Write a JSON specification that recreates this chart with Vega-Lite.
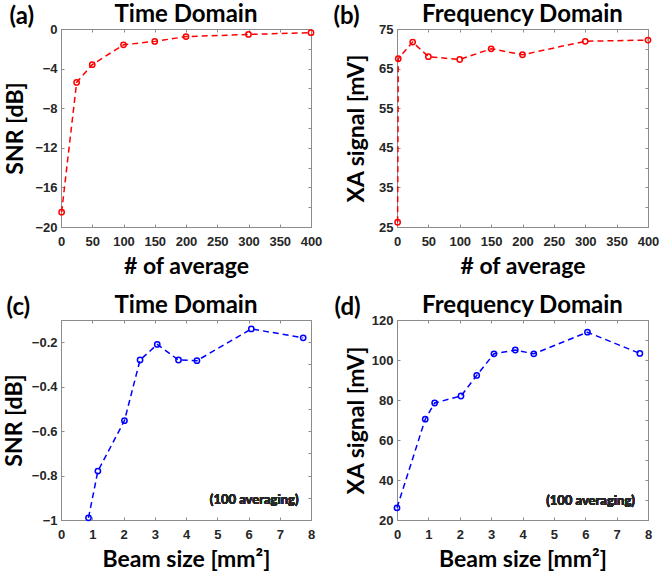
{
  "$schema": "https://vega.github.io/schema/vega-lite/v6.json",
  "background": "white",
  "padding": {"left": 2, "top": 2, "right": 0, "bottom": 1},
  "bounds": "flush",
  "columns": 2,
  "spacing": {"row": 93, "column": 86},
  "config": {
    "view": {"stroke": "#a0a0a0", "strokeWidth": 1},
    "axis": {"domainColor": "#8c8c8c", "tickColor": "#8c8c8c", "tickSize": -3, "grid": false, "labelOverlap": false, "labelFlush": false, "labelBound": false,
      "labelFont": "Liberation Sans", "labelFontWeight": "bold", "labelFontSize": 13, "labelColor": "#262626",
      "titleFont": "Lato", "titleFontWeight": "bold", "titleFontSize": 23, "titleColor": "#000000"},
    "axisBottom": {"labelPadding": 11, "titlePadding": 7},
    "axisLeft": {"labelPadding": 7, "titlePadding": 6},
    "title": {"font": "Lato", "fontWeight": "bold", "fontSize": 24, "color": "#000000", "anchor": "middle", "frame": "group"}
  },
  "concat": [
    {
      "width": 250, "height": 198,
      "title": {"text": "Time Domain", "offset": -23},
      "data": {"values": [
        {"avg": 1, "val": -18.5}, {"avg": 25, "val": -5.4}, {"avg": 50, "val": -3.6}, {"avg": 100, "val": -1.6},
        {"avg": 150, "val": -1.25}, {"avg": 200, "val": -0.77}, {"avg": 300, "val": -0.55}, {"avg": 400, "val": -0.37}
      ]},
      "layer": [
        {"mark": {"type": "line", "color": "#ff0000", "strokeDash": [6, 4], "strokeWidth": 1.5},
         "encoding": {
           "x": {"field": "avg", "type": "quantitative", "scale": {"domain": [0, 400], "nice": false},
                 "axis": {"orient": "bottom", "title": "# of average", "labelFlush": false, "labelOverlap": false, "values": [0, 50, 100, 150, 200, 250, 300, 350, 400]}},
           "y": {"field": "val", "type": "quantitative", "scale": {"domain": [-20, 0], "nice": false, "zero": false},
                 "axis": {"orient": "left", "title": "SNR [dB]", "titlePadding": 7, "labelFlush": false, "values": [-20, -16, -12, -8, -4, 0]}}
         }},
        {"mark": {"type": "point", "shape": "circle", "filled": false, "color": "#ff0000", "size": 28, "strokeWidth": 1.5, "opacity": 1},
         "encoding": {
           "x": {"field": "avg", "type": "quantitative",
                 "axis": {"orient": "top", "labels": false, "values": [0, 50, 100, 150, 200, 250, 300, 350, 400],
                          "title": "(a)", "titleX": -52, "titleY": -13, "titleAlign": "left", "titleBaseline": "middle", "titleAngle": 0, "titleFontSize": 24}},
           "y": {"field": "val", "type": "quantitative",
                 "axis": {"orient": "right", "labels": false, "title": null, "values": [-20, -18, -16, -14, -12, -10, -8, -6, -4, -2, 0]}}
         }}
      ],
      "resolve": {"axis": {"x": "independent", "y": "independent"}}
    },
    {
      "width": 251, "height": 198,
      "title": {"text": "Frequency Domain", "offset": -23},
      "data": {"values": [
        {"avg": 1, "val": 26.2}, {"avg": 2, "val": 67.5}, {"avg": 25, "val": 71.7}, {"avg": 50, "val": 68.0},
        {"avg": 100, "val": 67.3}, {"avg": 150, "val": 70.0}, {"avg": 200, "val": 68.5}, {"avg": 300, "val": 71.9}, {"avg": 400, "val": 72.2}
      ]},
      "layer": [
        {"mark": {"type": "line", "color": "#ff0000", "strokeDash": [6, 4], "strokeWidth": 1.5},
         "encoding": {
           "x": {"field": "avg", "type": "quantitative", "scale": {"domain": [0, 400], "nice": false},
                 "axis": {"orient": "bottom", "title": "# of average", "labelFlush": false, "labelOverlap": false, "values": [0, 50, 100, 150, 200, 250, 300, 350, 400]}},
           "y": {"field": "val", "type": "quantitative", "scale": {"domain": [25, 75], "nice": false, "zero": false},
                 "axis": {"orient": "left", "title": "XA signal [mV]", "titlePadding": 10, "labelFlush": false, "values": [25, 35, 45, 55, 65, 75]}}
         }},
        {"mark": {"type": "point", "shape": "circle", "filled": false, "color": "#ff0000", "size": 28, "strokeWidth": 1.5, "opacity": 1},
         "encoding": {
           "x": {"field": "avg", "type": "quantitative",
                 "axis": {"orient": "top", "labels": false, "values": [0, 50, 100, 150, 200, 250, 300, 350, 400],
                          "title": "(b)", "titleX": -64, "titleY": -13, "titleAlign": "left", "titleBaseline": "middle", "titleAngle": 0, "titleFontSize": 24}},
           "y": {"field": "val", "type": "quantitative",
                 "axis": {"orient": "right", "labels": false, "title": null, "values": [25, 30, 35, 40, 45, 50, 55, 60, 65, 70, 75]}}
         }}
      ],
      "resolve": {"axis": {"x": "independent", "y": "independent"}}
    },
    {
      "width": 250, "height": 200,
      "title": {"text": "Time Domain", "offset": -23},
      "data": {"values": [
        {"beam": 0.88, "val": -0.99}, {"beam": 1.18, "val": -0.78}, {"beam": 2.03, "val": -0.553}, {"beam": 2.53, "val": -0.28},
        {"beam": 3.08, "val": -0.21}, {"beam": 3.76, "val": -0.28}, {"beam": 4.35, "val": -0.283}, {"beam": 6.09, "val": -0.14}, {"beam": 7.75, "val": -0.18}
      ]},
      "layer": [
        {"mark": {"type": "line", "color": "#0000ff", "strokeDash": [6, 4], "strokeWidth": 1.5},
         "encoding": {
           "x": {"field": "beam", "type": "quantitative", "scale": {"domain": [0, 8], "nice": false},
                 "axis": {"orient": "bottom", "title": "Beam size [mm²]", "labelFlush": false, "values": [0, 1, 2, 3, 4, 5, 6, 7, 8]}},
           "y": {"field": "val", "type": "quantitative", "scale": {"domain": [-1, -0.1], "nice": false, "zero": false},
                 "axis": {"orient": "left", "title": "SNR [dB]", "titlePadding": 5, "labelFlush": false, "values": [-1, -0.8, -0.6, -0.4, -0.2], "format": "~g"}}
         }},
        {"mark": {"type": "point", "shape": "circle", "filled": false, "color": "#0000ff", "size": 28, "strokeWidth": 1.5, "opacity": 1},
         "encoding": {
           "x": {"field": "beam", "type": "quantitative",
                 "axis": {"orient": "top", "labels": false, "values": [0, 1, 2, 3, 4, 5, 6, 7, 8],
                          "title": "(c)", "titleX": -55, "titleY": -13, "titleAlign": "left", "titleBaseline": "middle", "titleAngle": 0, "titleFontSize": 24}},
           "y": {"field": "val", "type": "quantitative",
                 "axis": {"orient": "right", "labels": false, "title": null, "values": [-1, -0.9, -0.8, -0.7, -0.6, -0.5, -0.4, -0.3, -0.2, -0.1]}}
         }},
        {"mark": {"type": "text", "text": "(100 averaging)", "align": "right", "baseline": "middle", "font": "Lato", "fontWeight": "bold", "fontSize": 13, "color": "#262626"},
         "encoding": {
           "x": {"datum": 7.6, "type": "quantitative", "axis": null},
           "y": {"datum": -0.91, "type": "quantitative", "axis": null}
         }}
      ],
      "resolve": {"axis": {"x": "independent", "y": "independent"}}
    },
    {
      "width": 251, "height": 200,
      "title": {"text": "Frequency Domain", "offset": -23},
      "data": {"values": [
        {"beam": 0.0, "val": 26.1}, {"beam": 0.9, "val": 70.4}, {"beam": 1.2, "val": 78.5}, {"beam": 2.04, "val": 82.0},
        {"beam": 2.54, "val": 92.3}, {"beam": 3.09, "val": 103.1}, {"beam": 3.77, "val": 105.0}, {"beam": 4.36, "val": 103.1},
        {"beam": 6.07, "val": 113.9}, {"beam": 7.74, "val": 103.3}
      ]},
      "layer": [
        {"mark": {"type": "line", "color": "#0000ff", "strokeDash": [6, 4], "strokeWidth": 1.5},
         "encoding": {
           "x": {"field": "beam", "type": "quantitative", "scale": {"domain": [0, 8], "nice": false},
                 "axis": {"orient": "bottom", "title": "Beam size [mm²]", "labelFlush": false, "values": [0, 1, 2, 3, 4, 5, 6, 7, 8]}},
           "y": {"field": "val", "type": "quantitative", "scale": {"domain": [20, 120], "nice": false, "zero": false},
                 "axis": {"orient": "left", "title": "XA signal [mV]", "titlePadding": 3, "labelFlush": false, "values": [20, 40, 60, 80, 100, 120]}}
         }},
        {"mark": {"type": "point", "shape": "circle", "filled": false, "color": "#0000ff", "size": 28, "strokeWidth": 1.5, "opacity": 1},
         "encoding": {
           "x": {"field": "beam", "type": "quantitative",
                 "axis": {"orient": "top", "labels": false, "values": [0, 1, 2, 3, 4, 5, 6, 7, 8],
                          "title": "(d)", "titleX": -63, "titleY": -13, "titleAlign": "left", "titleBaseline": "middle", "titleAngle": 0, "titleFontSize": 24}},
           "y": {"field": "val", "type": "quantitative",
                 "axis": {"orient": "right", "labels": false, "title": null, "values": [20, 30, 40, 50, 60, 70, 80, 90, 100, 110, 120]}}
         }},
        {"mark": {"type": "text", "text": "(100 averaging)", "align": "right", "baseline": "middle", "font": "Lato", "fontWeight": "bold", "fontSize": 13, "color": "#262626"},
         "encoding": {
           "x": {"datum": 7.58, "type": "quantitative", "axis": null},
           "y": {"datum": 29.3, "type": "quantitative", "axis": null}
         }}
      ],
      "resolve": {"axis": {"x": "independent", "y": "independent"}}
    }
  ]
}
